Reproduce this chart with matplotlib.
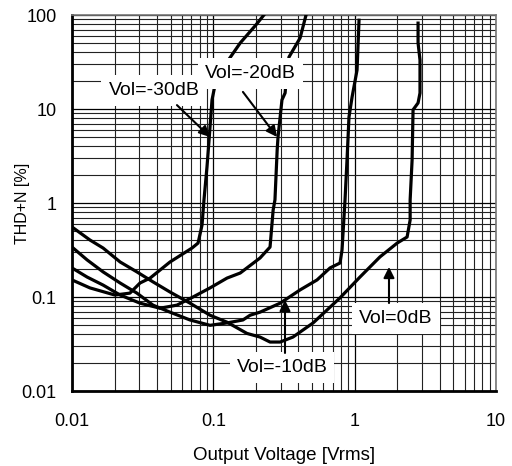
import numpy as np
import matplotlib.pyplot as plt
from matplotlib.ticker import LogLocator, NullFormatter, FixedLocator, FixedFormatter

plt.rcParams['font.family'] = ['Liberation Sans', 'DejaVu Sans']

# THD+N vs output voltage, one curve per volume setting
vout_0db = [0.01, 0.0134, 0.0166, 0.0219, 0.0288, 0.0374, 0.0494, 0.0684, 0.0948, 0.125,
            0.173, 0.214, 0.252, 0.297, 0.366, 0.508, 0.670, 0.788, 1.09, 1.51, 2.0,
            2.35, 2.47, 2.47, 2.55, 2.59, 2.81, 2.90, 2.90, 2.81, 2.81]
thd_0db = [0.556, 0.404, 0.332, 0.236, 0.185, 0.145, 0.113, 0.086, 0.064, 0.054,
           0.041, 0.0375, 0.0332, 0.0332, 0.0375, 0.053, 0.078, 0.098, 0.163, 0.267, 0.375,
           0.435, 0.66, 1.08, 2.87, 9.8, 11.6, 14.8, 33.2, 50.4, 82.0]

vout_10db = [0.01, 0.0128, 0.0166, 0.0219, 0.0288, 0.0374, 0.0494, 0.0684, 0.0948, 0.125,
             0.162, 0.182, 0.214, 0.297, 0.411, 0.542, 0.670, 0.788, 0.814, 0.855,
             0.883, 0.912, 0.959, 1.04, 1.074]
thd_10db = [0.340, 0.248, 0.185, 0.141, 0.110, 0.082, 0.069, 0.057, 0.050, 0.053,
            0.057, 0.064, 0.069, 0.086, 0.119, 0.152, 0.204, 0.230, 0.316, 1.08,
            2.87, 8.2, 13.4, 26.0, 88.0]

vout_20db = [0.01, 0.0128, 0.0166, 0.0219, 0.0303, 0.042, 0.0553, 0.0718, 0.0948, 0.125,
             0.155, 0.214, 0.252, 0.265, 0.273, 0.283, 0.287, 0.306, 0.322, 0.333,
             0.343, 0.411, 0.453]
thd_20db = [0.204, 0.163, 0.134, 0.105, 0.086, 0.076, 0.082, 0.100, 0.125, 0.159,
            0.180, 0.26, 0.340, 0.84, 1.08, 3.66, 5.04, 12.5, 14.8, 26.0,
            35.7, 56.9, 100.0]

vout_30db = [0.01, 0.0134, 0.0201, 0.0257, 0.0303, 0.0357, 0.0494, 0.0707, 0.078, 0.0832,
             0.0859, 0.0902, 0.0933, 0.0979, 0.1045, 0.125, 0.155, 0.200, 0.228]
thd_30db = [0.152, 0.125, 0.105, 0.110, 0.141, 0.159, 0.236, 0.332, 0.375, 0.583,
            1.08, 2.42, 4.68, 12.5, 20.3, 31.6, 50.4, 78.3, 100.0]

# label text, label position, arrow tail, arrow tip
labels = ['Vol=-30dB', 'Vol=-20dB', 'Vol=-10dB', 'Vol=0dB']
label_xy = [(0.038, 15.9), (0.182, 23.6), (0.306, 0.018), (1.96, 0.0598)]
arrow_from = [(0.0553, 11.0), (0.162, 15.2), (0.3215, 0.0254), (1.75, 0.0863)]
arrow_to = [(0.0948, 5.04), (0.2825, 5.04), (0.3215, 0.093), (1.75, 0.209)]

x_ticks = [0.01, 0.1, 1, 10]
x_ticklabels = ['0.01', '0.1', '1', '10']
y_ticks = [0.01, 0.1, 1, 10, 100]
y_ticklabels = ['0.01', '0.1', '1', '10', '100']

fig = plt.figure(figsize=(5.12, 4.66), dpi=100)
ax = fig.add_axes([0.1406, 0.1609, 0.8281, 0.8069])
ax.set_xscale('log')
ax.set_yscale('log')
ax.set_xlim(0.01, 10)
ax.set_ylim(0.01, 100)

for vx, vy in [(vout_0db, thd_0db), (vout_10db, thd_10db),
               (vout_20db, thd_20db), (vout_30db, thd_30db)]:
    ax.plot(vx, vy, color='black', lw=2.3, zorder=3, solid_joinstyle='round')

ax.xaxis.set_major_locator(FixedLocator(x_ticks))
ax.xaxis.set_major_formatter(FixedFormatter(x_ticklabels))
ax.yaxis.set_major_locator(FixedLocator(y_ticks))
ax.yaxis.set_major_formatter(FixedFormatter(y_ticklabels))
ax.xaxis.set_minor_locator(LogLocator(base=10, subs=np.arange(2, 10), numticks=20))
ax.yaxis.set_minor_locator(LogLocator(base=10, subs=np.arange(2, 10), numticks=20))
ax.xaxis.set_minor_formatter(NullFormatter())
ax.yaxis.set_minor_formatter(NullFormatter())

ax.grid(which='major', color='black', lw=0.9, zorder=1)
ax.grid(which='minor', color='#222222', lw=0.8, zorder=1)
ax.set_axisbelow(True)
ax.tick_params(which='both', length=0)
ax.tick_params(axis='x', pad=16, labelsize=13)
ax.tick_params(axis='y', pad=11, labelsize=13)

for side in ['left', 'bottom']:
    ax.spines[side].set_linewidth(2)
    ax.spines[side].set_color('black')
for side in ['top', 'right']:
    ax.spines[side].set_linewidth(1.2)
    ax.spines[side].set_color('#777777')

ax.set_xlabel('Output Voltage [Vrms]', fontsize=13.5, labelpad=12)
ax.set_ylabel('THD+N [%]', fontsize=11.5)
ax.yaxis.set_label_coords(-0.1, 0.5)

for text, pos, start, tip in zip(labels, label_xy, arrow_from, arrow_to):
    ax.text(pos[0], pos[1], text, fontsize=14, ha='center', va='center', zorder=5,
            bbox=dict(facecolor='white', edgecolor='none', pad=5))
    ax.annotate('', xy=tip, xytext=start, zorder=6,
                arrowprops=dict(arrowstyle='-|>', color='black', lw=1.5,
                                mutation_scale=16, shrinkA=0, shrinkB=0))

fig.savefig('out.png', dpi=100)
